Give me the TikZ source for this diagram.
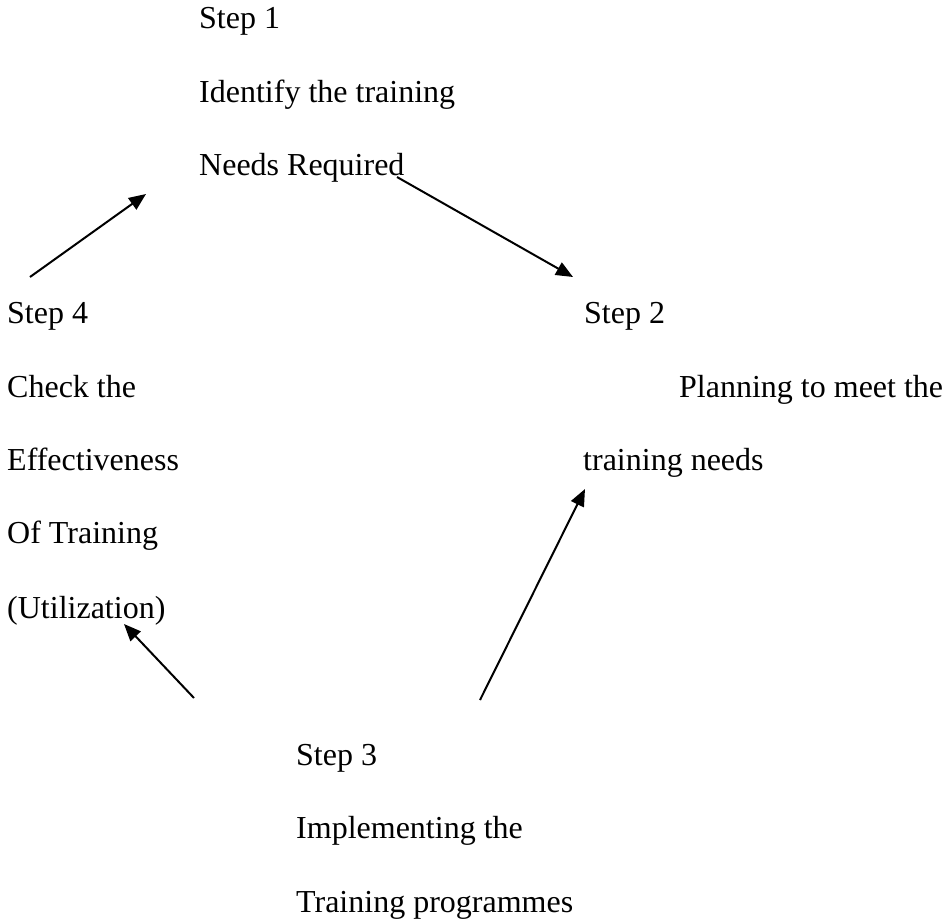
\documentclass[tikz,border=0pt]{standalone}
\usepackage{fontspec}
\setmainfont{Liberation Serif}
\usetikzlibrary{arrows.meta}
\begin{document}
\begin{tikzpicture}[x=1pt,y=-1pt,
  txt/.style={anchor=base west,inner sep=0pt,font=\fontsize{32}{38}\selectfont},
  arr/.style={line width=2pt,-{Triangle[length=17pt,width=14pt]}}]
\useasboundingbox (0,0) rectangle (948,919);
% Step 1
\node[txt] (s1a) at (199,28) {Step 1};
\node[txt] (s1b) at (199,102) {Identify the training};
\node[txt] (s1c) at (199,175) {Needs Required};
% Step 2
\node[txt] (s2a) at (584,323) {Step 2};
\node[txt] (s2b) at (679,397) {Planning to meet the};
\node[txt] (s2c) at (583,470) {training needs};
% Step 3
\node[txt] (s3a) at (296,765) {Step 3};
\node[txt] (s3b) at (296,838) {Implementing the};
\node[txt] (s3c) at (296,912) {Training programmes};
% Step 4
\node[txt] (s4a) at (7,323) {Step 4};
\node[txt] (s4b) at (7,397) {Check the};
\node[txt] (s4c) at (7,470) {Effectiveness};
\node[txt] (s4d) at (7,543) {Of Training};
\node[txt] (s4e) at (7,618) {(Utilization)};
% arrow end points
\coordinate (a1s) at (397,177);
\coordinate (a1e) at (573,277);
\coordinate (a2s) at (480,700);
\coordinate (a2e) at (585,489);
\coordinate (a3s) at (194,698);
\coordinate (a3e) at (124,624);
\coordinate (a4s) at (30,277);
\coordinate (a4e) at (146,194);
\draw[arr] (a1s) -- (a1e);
\draw[arr] (a2s) -- (a2e);
\draw[arr] (a3s) -- (a3e);
\draw[arr] (a4s) -- (a4e);
\end{tikzpicture}
\end{document}
